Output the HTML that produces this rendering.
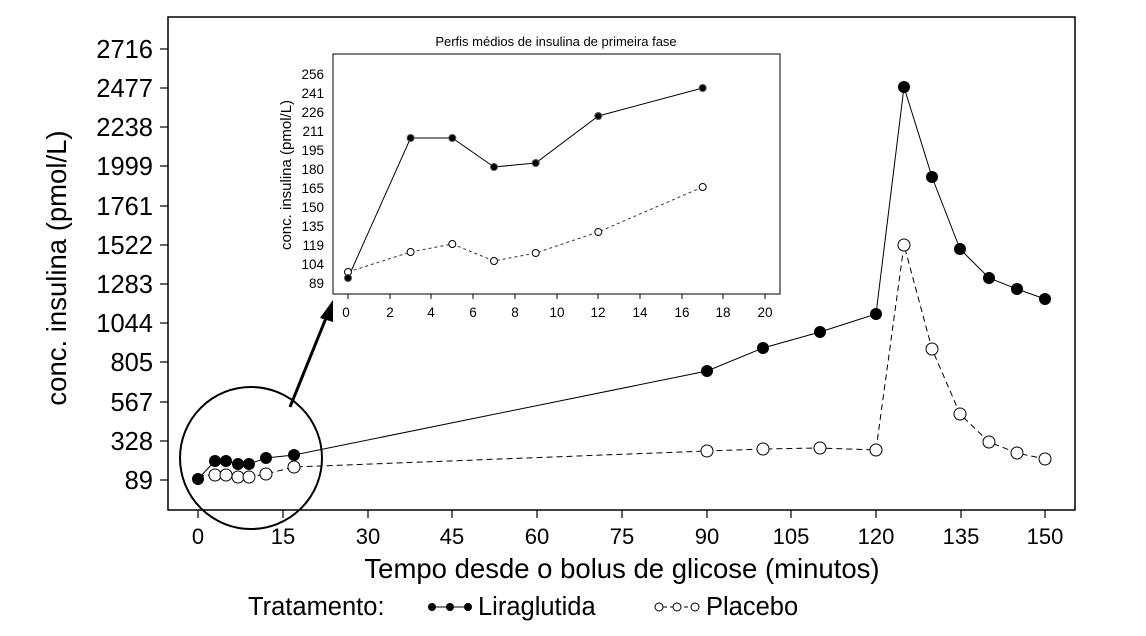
<!DOCTYPE html>
<html><head><meta charset="utf-8"><style>body{margin:0;background:#fff}</style></head><body>
<svg width="1146" height="631" xmlns="http://www.w3.org/2000/svg" font-family="Liberation Sans, sans-serif">
<rect x="168" y="17" width="907" height="493" fill="none" stroke="#000" stroke-width="1.5"/>
<g stroke="#000" stroke-width="1.2">
<line x1="160" y1="49" x2="168" y2="49"/><line x1="160" y1="88" x2="168" y2="88"/><line x1="160" y1="127" x2="168" y2="127"/><line x1="160" y1="166" x2="168" y2="166"/><line x1="160" y1="206" x2="168" y2="206"/><line x1="160" y1="245" x2="168" y2="245"/><line x1="160" y1="284" x2="168" y2="284"/><line x1="160" y1="323" x2="168" y2="323"/><line x1="160" y1="362" x2="168" y2="362"/><line x1="160" y1="402" x2="168" y2="402"/><line x1="160" y1="441" x2="168" y2="441"/><line x1="160" y1="480" x2="168" y2="480"/>
<line x1="198" y1="510" x2="198" y2="518"/><line x1="283" y1="510" x2="283" y2="518"/><line x1="368" y1="510" x2="368" y2="518"/><line x1="452" y1="510" x2="452" y2="518"/><line x1="537" y1="510" x2="537" y2="518"/><line x1="622" y1="510" x2="622" y2="518"/><line x1="707" y1="510" x2="707" y2="518"/><line x1="791" y1="510" x2="791" y2="518"/><line x1="876" y1="510" x2="876" y2="518"/><line x1="961" y1="510" x2="961" y2="518"/><line x1="1045" y1="510" x2="1045" y2="518"/>
</g>
<g font-size="25.5" text-anchor="end" fill="#000">
<text x="153" y="58">2716</text><text x="153" y="97">2477</text><text x="153" y="136">2238</text><text x="153" y="175">1999</text><text x="153" y="215">1761</text><text x="153" y="254">1522</text><text x="153" y="293">1283</text><text x="153" y="332">1044</text><text x="153" y="371">805</text><text x="153" y="411">567</text><text x="153" y="450">328</text><text x="153" y="489">89</text>
</g>
<g font-size="22" text-anchor="middle">
<text x="198" y="544">0</text><text x="283" y="544">15</text><text x="368" y="544">30</text><text x="452" y="544">45</text><text x="537" y="544">60</text><text x="622" y="544">75</text><text x="707" y="544">90</text><text x="791" y="544">105</text><text x="876" y="544">120</text><text x="961" y="544">135</text><text x="1045" y="544">150</text>
</g>
<text x="622" y="578" font-size="27.5" text-anchor="middle">Tempo desde o bolus de glicose (minutos)</text>
<text transform="translate(66,268) rotate(-90)" font-size="27.5" text-anchor="middle">conc. insulina (pmol/L)</text>
<polyline fill="none" stroke="#000" stroke-width="1" points="198,479 215,461 226,461 238,464 249,464 266,458 294,455 707,371 763,348 820,332 876,314 904,87 932,177 960,249 989,278 1017,289 1045,299"/>
<polyline fill="none" stroke="#000" stroke-width="1" stroke-dasharray="6,4" points="198,476 215,475 226,475 238,477 249,477 266,474 294,467 707,451 763,449 820,448 876,450 904,245 932,349 960,414 989,442 1017,453 1045,459"/>
<g fill="#fff" stroke="#000" stroke-width="1">
<circle cx="215" cy="475" r="6"/><circle cx="226" cy="475" r="6"/><circle cx="238" cy="477" r="6"/><circle cx="249" cy="477" r="6"/><circle cx="266" cy="474" r="6"/><circle cx="294" cy="467" r="6"/><circle cx="707" cy="451" r="6"/><circle cx="763" cy="449" r="6"/><circle cx="820" cy="448" r="6"/><circle cx="876" cy="450" r="6"/><circle cx="904" cy="245" r="6"/><circle cx="932" cy="349" r="6"/><circle cx="960" cy="414" r="6"/><circle cx="989" cy="442" r="6"/><circle cx="1017" cy="453" r="6"/><circle cx="1045" cy="459" r="6"/>
</g>
<g fill="#000">
<circle cx="198" cy="479" r="6"/><circle cx="215" cy="461" r="6"/><circle cx="226" cy="461" r="6"/><circle cx="238" cy="464" r="6"/><circle cx="249" cy="464" r="6"/><circle cx="266" cy="458" r="6"/><circle cx="294" cy="455" r="6"/><circle cx="707" cy="371" r="6"/><circle cx="763" cy="348" r="6"/><circle cx="820" cy="332" r="6"/><circle cx="876" cy="314" r="6"/><circle cx="904" cy="87" r="6"/><circle cx="932" cy="177" r="6"/><circle cx="960" cy="249" r="6"/><circle cx="989" cy="278" r="6"/><circle cx="1017" cy="289" r="6"/><circle cx="1045" cy="299" r="6"/>
</g>
<circle cx="251" cy="458" r="71" fill="none" stroke="#000" stroke-width="2"/>
<line x1="290" y1="407" x2="326" y2="318" stroke="#000" stroke-width="3"/>
<polygon points="333,300 320,318 333,322" fill="#000"/>
<!-- inset -->
<rect x="333" y="54" width="447" height="240" fill="#fff" stroke="#000" stroke-width="1"/>
<text x="556" y="46" font-size="13" text-anchor="middle">Perfis médios de insulina de primeira fase</text>
<g font-size="13.5" text-anchor="end">
<text x="324" y="288">89</text><text x="324" y="269">104</text><text x="324" y="250">119</text><text x="324" y="231">135</text><text x="324" y="212">150</text><text x="324" y="193">165</text><text x="324" y="174">180</text><text x="324" y="155">195</text><text x="324" y="136">211</text><text x="324" y="117">226</text><text x="324" y="98">241</text><text x="324" y="79">256</text>
</g>
<g font-size="13.5" text-anchor="middle">
<text x="346" y="317">0</text><text x="390" y="317">2</text><text x="431" y="317">4</text><text x="473" y="317">6</text><text x="515" y="317">8</text><text x="557" y="317">10</text><text x="598" y="317">12</text><text x="640" y="317">14</text><text x="682" y="317">16</text><text x="723" y="317">18</text><text x="765" y="317">20</text>
</g>
<g stroke="#000" stroke-width="1">
<line x1="348" y1="294" x2="348" y2="299"/><line x1="390" y1="294" x2="390" y2="299"/><line x1="431" y1="294" x2="431" y2="299"/><line x1="473" y1="294" x2="473" y2="299"/><line x1="515" y1="294" x2="515" y2="299"/><line x1="557" y1="294" x2="557" y2="299"/><line x1="598" y1="294" x2="598" y2="299"/><line x1="640" y1="294" x2="640" y2="299"/><line x1="682" y1="294" x2="682" y2="299"/><line x1="723" y1="294" x2="723" y2="299"/><line x1="765" y1="294" x2="765" y2="299"/>
</g>
<text transform="translate(291,175) rotate(-90)" font-size="15" text-anchor="middle">conc. insulina (pmol/L)</text>
<polyline fill="none" stroke="#000" stroke-width="1" points="348,278 410.6,138 452.3,138 494,167 535.7,163 598.3,116 702.7,88"/>
<polyline fill="none" stroke="#333" stroke-width="1" stroke-dasharray="3,3" points="348,272 410.6,252 452.3,244 494,261 535.7,253 598.3,232 702.7,187"/>
<g fill="#fff" stroke="#000" stroke-width="1">
<circle cx="348" cy="272" r="3.5"/><circle cx="410.6" cy="252" r="3.5"/><circle cx="452.3" cy="244" r="3.5"/><circle cx="494" cy="261" r="3.5"/><circle cx="535.7" cy="253" r="3.5"/><circle cx="598.3" cy="232" r="3.5"/><circle cx="702.7" cy="187" r="3.5"/>
</g>
<g fill="#000" stroke="#555" stroke-width="1">
<circle cx="348" cy="278" r="3.5"/><circle cx="410.6" cy="138" r="3.5"/><circle cx="452.3" cy="138" r="3.5"/><circle cx="494" cy="167" r="3.5"/><circle cx="535.7" cy="163" r="3.5"/><circle cx="598.3" cy="116" r="3.5"/><circle cx="702.7" cy="88" r="3.5"/>
</g>
<!-- legend -->
<text x="248" y="615" font-size="25.5">Tratamento:</text>
<line x1="430" y1="607" x2="470" y2="607" stroke="#000"/>
<circle cx="432" cy="607" r="4"/><circle cx="450" cy="607" r="4"/><circle cx="468" cy="607" r="4"/>
<text x="478" y="615" font-size="25.5">Liraglutida</text>
<line x1="656" y1="607" x2="698" y2="607" stroke="#000" stroke-dasharray="4,3"/>
<g fill="#fff" stroke="#000"><circle cx="659" cy="607" r="4"/><circle cx="677" cy="607" r="4"/><circle cx="695" cy="607" r="4"/></g>
<text x="706" y="615" font-size="25.5">Placebo</text>
</svg>
</body></html>
